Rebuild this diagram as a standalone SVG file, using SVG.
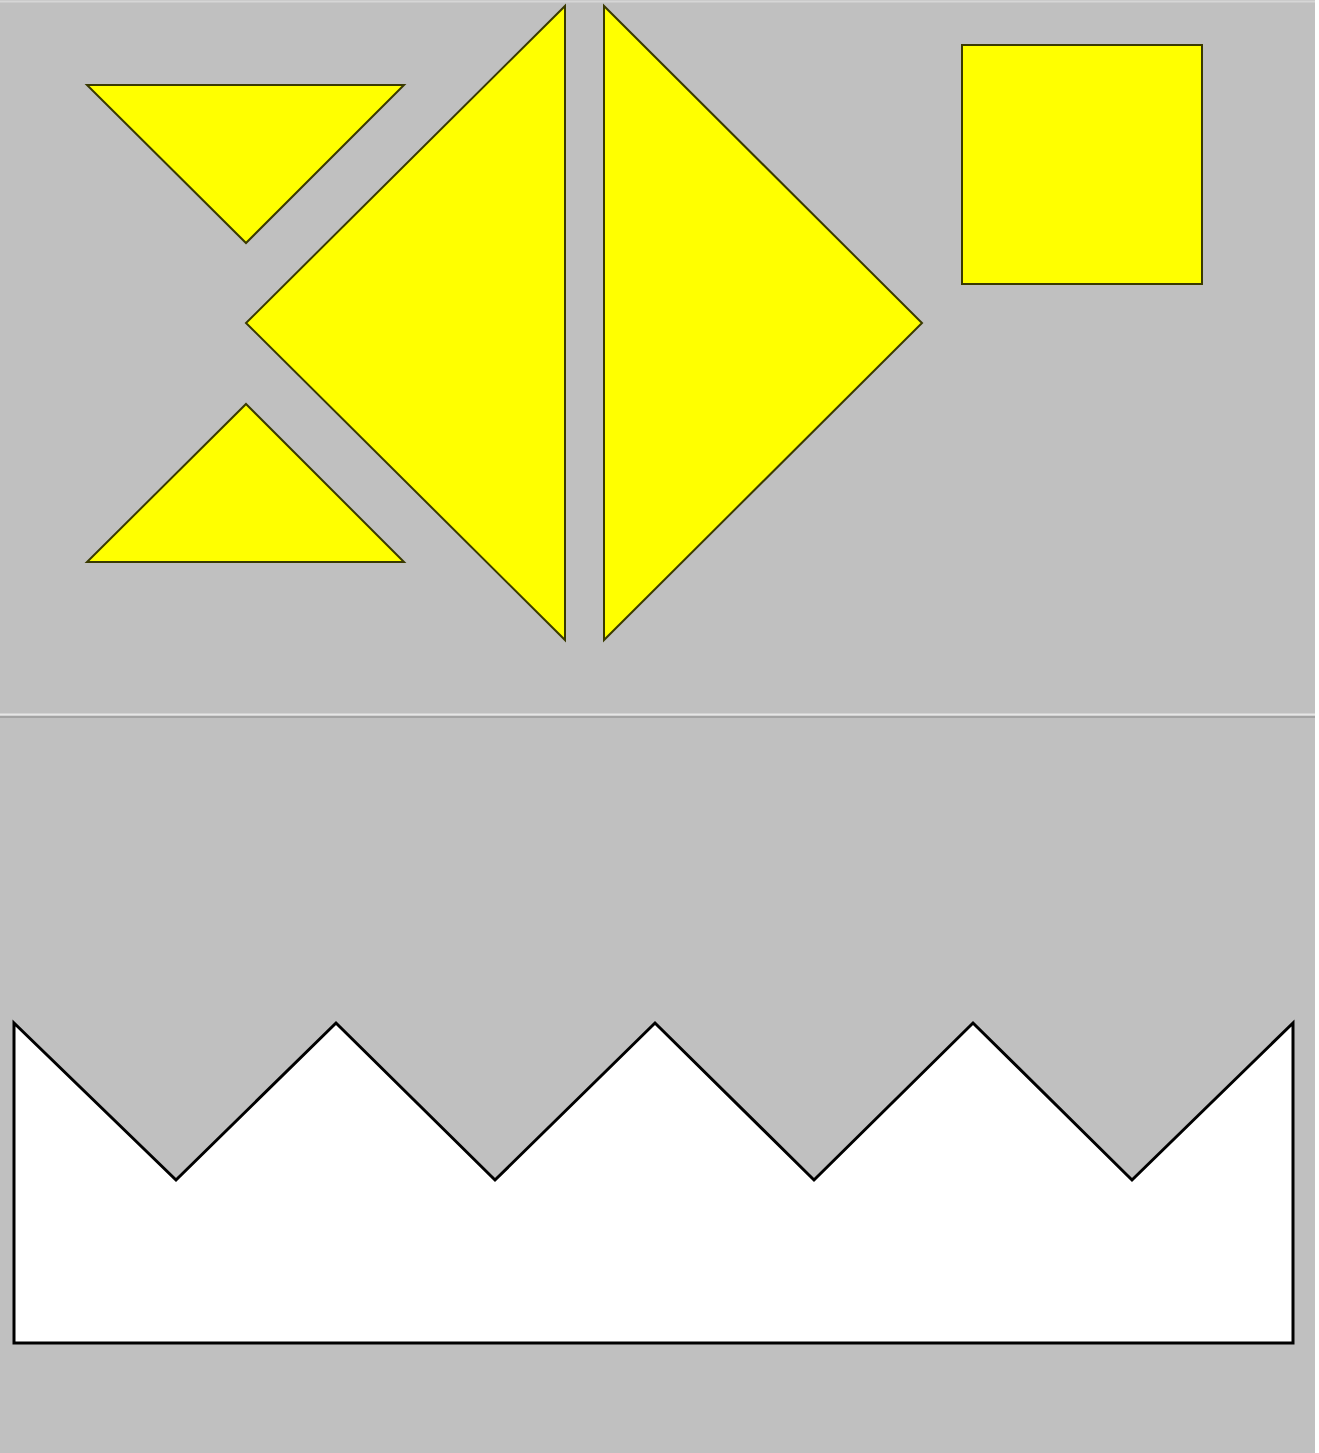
<svg xmlns="http://www.w3.org/2000/svg" width="1319" height="1453" viewBox="0 0 1319 1453">
<style>
.piece{fill:#ffff00;stroke:#3a3a00;stroke-width:2;stroke-linejoin:miter}
.crown{fill:#ffffff;stroke:#000000;stroke-width:3;stroke-linejoin:miter}
</style>
<rect x="0" y="0" width="1319" height="1453" fill="#ffffff"/>
<rect x="0" y="0" width="1315" height="1453" fill="#c0c0c0"/>
<line x1="0" y1="1.5" x2="1315" y2="1.5" stroke="#d6d6d6" stroke-width="2"/>
<line x1="0" y1="714.5" x2="1315" y2="714.5" stroke="#e6e6e6" stroke-width="2"/>
<line x1="0" y1="717" x2="1315" y2="717" stroke="#9a9a9a" stroke-width="1.5"/>
<g id="tri-top-left"><polygon class="piece" points="87,85 404,85 246,243"/></g>
<g id="tri-bottom-left"><polygon class="piece" points="87,562 404,562 246,404"/></g>
<g id="tri-large-left"><polygon class="piece" points="565,6 565,640 246,323"/></g>
<g id="tri-large-right"><polygon class="piece" points="604,6 604,640 922,323"/></g>
<g id="square"><rect class="piece" x="962" y="45" width="240" height="239"/></g>
<g id="crown"><polygon class="crown" points="14,1023 176,1180 336,1023 495,1180 655,1023 814,1180 973,1023 1132,1180 1293,1023 1293,1343 14,1343"/></g>
<g id="connectors"></g>
</svg>
